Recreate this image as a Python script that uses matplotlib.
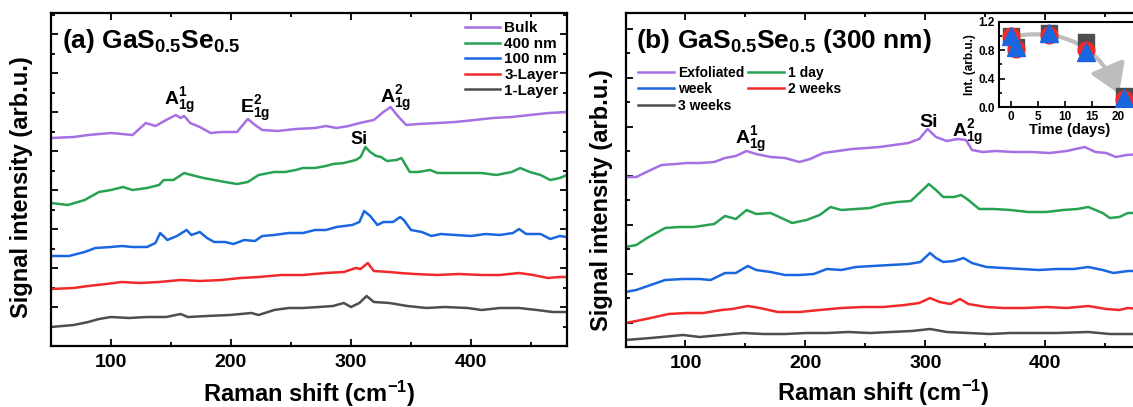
import matplotlib
matplotlib.use("Agg")
import matplotlib.pyplot as plt
import numpy as np
from matplotlib.ticker import MultipleLocator, FixedLocator
from matplotlib.patches import FancyArrowPatch

plt.rcParams['font.family'] = ['Liberation Sans', 'DejaVu Sans']
plt.rcParams['font.weight'] = 'bold'
plt.rcParams['mathtext.fontset'] = 'custom'
plt.rcParams['mathtext.rm'] = 'Liberation Sans:bold'
plt.rcParams['mathtext.bf'] = 'Liberation Sans:bold'
plt.rcParams['mathtext.it'] = 'Liberation Sans:bold'

# ---- Panel (a): thickness series (stacked spectra, arb. units) ----
bulk_x = [50, 69, 81, 100, 118, 129, 137, 146, 154, 158, 161, 166, 174, 183, 192, 205, 214, 220, 226, 239, 254,
          270, 279, 288, 298, 304, 311, 319, 327, 333, 339, 346, 356, 372, 387, 403, 418, 434, 449, 465, 480]
bulk_y = [208, 209, 211, 213, 211, 223, 220, 226, 231, 228, 230, 223, 219, 213, 214, 214, 227, 221, 216, 215, 217,
          218, 220, 218, 220, 222, 224, 226, 234, 239, 230, 221, 222, 223, 224, 226, 228, 229, 231, 233, 234]

nm400_x = [50, 64, 78, 90, 100, 110, 118, 130, 140, 144, 152, 161, 167, 177, 186, 195, 205, 214, 223, 236, 245, 254,
           260, 270, 279, 285, 294, 304, 308, 312, 316, 321, 325, 330, 338, 342, 349, 356, 366, 372, 384, 397, 409,
           421, 434, 441, 449, 458, 466, 474, 480]
nm400_y = [143, 141, 146, 154, 156, 159, 156, 158, 161, 166, 166, 173, 171, 168, 166, 164, 162, 164, 171, 174, 174,
           176, 178, 178, 180, 182, 183, 186, 189, 199, 194, 190, 189, 185, 186, 188, 174, 174, 176, 173, 173, 173,
           173, 171, 174, 178, 174, 171, 166, 168, 171]

nm100_x = [50, 65, 78, 87, 100, 109, 118, 130, 137, 141, 147, 155, 163, 167, 174, 180, 186, 195, 202, 211, 220, 226,
           236, 248, 260, 270, 279, 288, 301, 307, 311, 316, 322, 327, 335, 341, 344, 350, 359, 367, 375, 387, 400,
           412, 424, 435, 440, 446, 458, 466, 474, 480]
nm100_y = [90, 90, 94, 98, 99, 100, 99, 99, 103, 113, 106, 110, 116, 111, 114, 108, 104, 104, 102, 106, 105, 110,
           111, 113, 113, 116, 116, 119, 121, 124, 135, 130, 121, 124, 124, 129, 126, 116, 114, 110, 112, 111, 110,
           112, 111, 113, 117, 112, 112, 107, 110, 109]

l3_x = [50, 69, 81, 96, 109, 124, 140, 158, 174, 192, 208, 223, 242, 260, 279, 294, 304, 308, 314, 319, 332, 341,
        353, 372, 390, 409, 424, 440, 452, 464, 474, 480]
l3_y = [57, 58, 60, 62, 64, 63, 64, 66, 65, 66, 68, 69, 71, 71, 73, 74, 78, 77, 83, 75, 74, 73, 72, 71, 72, 71, 71,
        73, 71, 68, 69, 69]

l1_x = [50, 69, 81, 90, 100, 115, 130, 146, 158, 164, 180, 199, 217, 223, 236, 248, 260, 273, 285, 294, 300, 307,
        313, 319, 332, 347, 363, 378, 397, 409, 424, 440, 455, 468, 480]
l1_y = [19, 21, 24, 27, 29, 28, 29, 29, 32, 29, 30, 31, 33, 31, 36, 38, 38, 39, 40, 43, 39, 43, 50, 44, 43, 40, 38,
        39, 38, 36, 38, 38, 36, 34, 34]

# ---- Panel (b): ageing series of a 300 nm flake ----
exf_x = [50, 59, 71, 80, 92, 101, 112, 124, 133, 142, 151, 159, 171, 183, 195, 204, 215, 227, 239, 251, 262, 274,
         286, 295, 302, 309, 318, 327, 334, 339, 348, 359, 374, 389, 404, 418, 433, 442, 451, 459, 468, 480]
exf_y = [170, 170, 177, 182, 183, 184, 184, 185, 189, 191, 196, 193, 190, 189, 185, 188, 194, 196, 198, 199, 200,
         202, 204, 208, 218, 210, 206, 208, 207, 197, 195, 196, 195, 195, 194, 196, 200, 195, 194, 190, 192, 193]

d1_x = [50, 59, 68, 77, 83, 95, 107, 124, 133, 142, 151, 159, 171, 180, 189, 201, 212, 221, 230, 242, 254, 265,
        277, 288, 296, 303, 309, 315, 324, 330, 336, 345, 357, 371, 386, 401, 415, 427, 436, 448, 454, 462, 469, 480]
d1_y = [100, 102, 109, 115, 119, 120, 120, 123, 131, 128, 137, 133, 134, 129, 124, 127, 132, 140, 137, 138, 139,
        143, 145, 146, 155, 163, 157, 150, 150, 152, 147, 138, 138, 137, 135, 135, 137, 138, 140, 134, 129, 130,
        134, 134]

wk_x = [50, 59, 71, 83, 98, 112, 121, 133, 142, 152, 159, 171, 183, 195, 207, 218, 230, 242, 256, 271, 286, 296,
        304, 309, 315, 324, 332, 339, 351, 365, 380, 395, 409, 424, 436, 448, 457, 469, 480]
wk_y = [55, 57, 62, 67, 68, 68, 67, 74, 74, 81, 77, 75, 72, 72, 73, 78, 77, 80, 81, 82, 83, 85, 94, 89, 85, 86, 89,
        84, 80, 79, 78, 77, 78, 78, 80, 77, 74, 76, 76]

w2_x = [50, 59, 71, 86, 101, 115, 130, 139, 152, 162, 177, 195, 212, 230, 248, 265, 283, 295, 304, 312, 321, 329,
        336, 351, 365, 383, 401, 418, 436, 451, 462, 469, 480]
w2_y = [24, 26, 29, 33, 34, 34, 37, 38, 41, 39, 35, 35, 37, 39, 40, 40, 42, 44, 49, 45, 43, 48, 43, 40, 39, 39, 40,
        39, 41, 38, 37, 39, 38]

w3_x = [50, 71, 98, 112, 130, 148, 165, 183, 201, 218, 236, 254, 271, 289, 304, 318, 336, 354, 371, 392, 409, 436,
        454, 469, 480]
w3_y = [7, 9, 12, 10, 12, 14, 13, 13, 14, 14, 15, 14, 15, 16, 18, 15, 14, 13, 14, 14, 14, 15, 13, 13, 13]

# ---- Inset: normalised intensity vs. time ----
days = [0, 1, 7, 14, 21]
int_sq = [1.00, 0.85, 1.05, 0.92, 0.15]
int_ci = [1.00, 0.82, 1.02, 0.80, 0.12]
int_tr = [1.00, 0.85, 1.05, 0.78, 0.13]

C_PURPLE = '#a66fe3'
C_GREEN = '#27a253'
C_BLUE = '#1a66e0'
C_RED = '#f02a2a'
C_GRAY = '#4d4d4d'

W, H = 1133, 407
fig = plt.figure(figsize=(W / 100, H / 100), dpi=100)


def px_axes(l, t, r, b):
    return fig.add_axes([l / W, 1 - b / H, (r - l) / W, (b - t) / H])


def style(ax, ylab_x, ylab_y, xlab_y):
    ax.set_xlim(50, 480)
    ax.xaxis.set_major_locator(FixedLocator([100, 200, 300, 400]))
    ax.xaxis.set_minor_locator(MultipleLocator(50))
    ax.tick_params(which='both', direction='in', top=True, right=True, width=1.3)
    ax.tick_params(which='major', length=5, labelsize=14, pad=6)
    ax.tick_params(which='minor', length=3)
    ax.set_yticklabels([])
    for s in ax.spines.values():
        s.set_linewidth(1.6)
    ax.set_xlabel('Raman shift (cm$^{-1}$)', fontsize=17, fontweight='bold')
    ax.set_ylabel('Signal intensity (arb.u.)', fontsize=17, fontweight='bold')
    ax.yaxis.set_label_coords(ylab_x, ylab_y)
    ax.xaxis.set_label_coords(0.5, xlab_y)
    for lab in ax.get_xticklabels():
        lab.set_fontweight('bold')


lw = 1.8

# Panel (a)
axa = px_axes(51, 13, 567, 346)
axa.plot(bulk_x, bulk_y, color=C_PURPLE, lw=lw, label='Bulk')
axa.plot(nm400_x, nm400_y, color=C_GREEN, lw=lw, label='400 nm')
axa.plot(nm100_x, nm100_y, color=C_BLUE, lw=lw, label='100 nm')
axa.plot(l3_x, l3_y, color=C_RED, lw=lw, label='3-Layer')
axa.plot(l1_x, l1_y, color=C_GRAY, lw=lw, label='1-Layer')
axa.set_ylim(0, 333)
axa.yaxis.set_major_locator(MultipleLocator(39))
axa.yaxis.set_minor_locator(MultipleLocator(19.5))
style(axa, -0.035, 0.477, -0.097)
axa.text(0.021, 0.915, r'(a) GaS$_{0.5}$Se$_{0.5}$', transform=axa.transAxes, fontsize=19,
         fontweight='bold', va='center', ha='left')
axa.legend(loc='upper right', frameon=False, handlelength=2.3, handletextpad=0.3,
           labelspacing=0.1, borderaxespad=0.15, prop={'weight': 'bold', 'size': 11})
axa.text(157, 230, r'A$_{1g}^{1}$', fontsize=14, ha='center', va='bottom')
axa.text(220, 222, r'E$_{1g}^{2}$', fontsize=14, ha='center', va='bottom')
axa.text(337, 232, r'A$_{1g}^{2}$', fontsize=14, ha='center', va='bottom')
axa.text(307, 198, 'Si', fontsize=13, ha='center', va='bottom')

# Panel (b)
axb = px_axes(625.5, 13, 1141, 347)
lb = []
lb += axb.plot(exf_x, exf_y, color=C_PURPLE, lw=lw, label='Exfoliated')
lb += axb.plot(d1_x, d1_y, color=C_GREEN, lw=lw, label='1 day')
lb += axb.plot(wk_x, wk_y, color=C_BLUE, lw=lw, label='week')
lb += axb.plot(w2_x, w2_y, color=C_RED, lw=lw, label='2 weeks')
lb += axb.plot(w3_x, w3_y, color=C_GRAY, lw=lw, label='3 weeks')
axb.set_ylim(0, 334)
axb.yaxis.set_major_locator(FixedLocator(np.arange(24.5, 334, 49)))
axb.yaxis.set_minor_locator(MultipleLocator(24.5))
style(axb, -0.025, 0.44, -0.092)
axb.text(0.02, 0.915, r'(b) GaS$_{0.5}$Se$_{0.5}$ (300 nm)', transform=axb.transAxes, fontsize=19,
         fontweight='bold', va='center', ha='left')
order = [lb[0], lb[2], lb[4], lb[1], lb[3]]
axb.legend(order, [h.get_label() for h in order], loc='upper left', bbox_to_anchor=(0.0, 0.88), ncol=2,
           frameon=False, handlelength=2.6, handletextpad=0.3, labelspacing=0.2, columnspacing=0.25,
           prop={'weight': 'bold', 'size': 10})
axb.text(154, 192, r'A$_{1g}^{1}$', fontsize=14, ha='center', va='bottom')
axb.text(303, 216, 'Si', fontsize=14, ha='center', va='bottom')
axb.text(335, 199, r'A$_{1g}^{2}$', fontsize=14, ha='center', va='bottom')

# Inset
axi = px_axes(999, 22, 1140, 107)
axi.set_xlim(-2.2, 24)
axi.set_ylim(0, 1.2)
axi.plot(days, int_sq, 's', color=C_GRAY, ms=12, zorder=3)
axi.plot(days, int_ci, 'o', color=C_RED, ms=12, zorder=4)
axi.plot(days, int_tr, '^', color=C_BLUE, ms=13, zorder=5)
arr = FancyArrowPatch((0.5, 1.0), (20.3, 0.15), connectionstyle='arc3,rad=-0.4',
                      arrowstyle='-|>,head_length=1.1,head_width=0.7', mutation_scale=16,
                      lw=3, color='#bdbdbd', zorder=2)
axi.add_patch(arr)
axi.xaxis.set_major_locator(FixedLocator([0, 5, 10, 15, 20]))
axi.yaxis.set_major_locator(FixedLocator([0.0, 0.4, 0.8, 1.2]))
axi.yaxis.set_minor_locator(MultipleLocator(0.2))
axi.set_yticklabels(['0.0', '0.4', '0.8', '1.2'])
axi.tick_params(which='both', direction='in', labelsize=8.5, width=1.2, pad=3)
axi.tick_params(which='major', length=4)
axi.tick_params(which='minor', length=2)
for s in axi.spines.values():
    s.set_linewidth(1.5)
axi.set_xlabel('Time (days)', fontsize=10.5, fontweight='bold', labelpad=0)
axi.set_ylabel('Int. (arb.u.)', fontsize=8.5, fontweight='bold', labelpad=2)

fig.savefig('out.png', dpi=100)
